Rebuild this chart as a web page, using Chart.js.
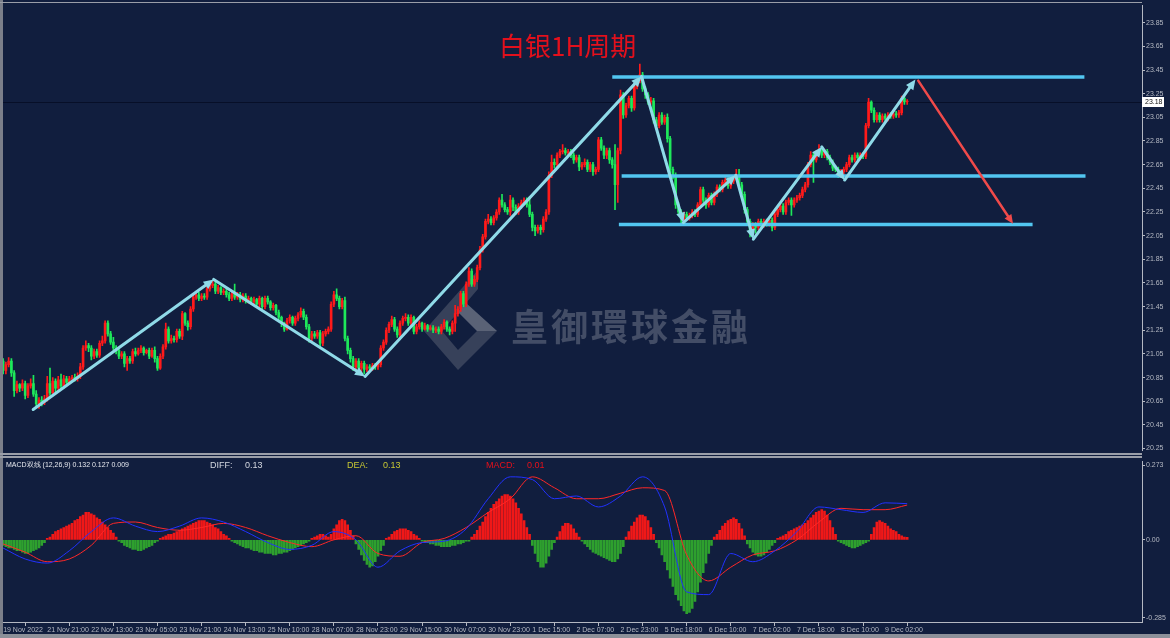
<!DOCTYPE html>
<html>
<head>
<meta charset="utf-8">
<script src="https://cdn.jsdelivr.net/npm/chart.js@4.4.1/dist/chart.umd.min.js"></script>
<style>
  body { margin:0; background:#111e3e; width:1170px; height:638px; overflow:hidden; position:relative; }
  canvas { position:absolute; left:0; }
  #main { top:0; }
  #macd { top:456px; }
  .fr { position:absolute; background:#9a9ea8; }
</style>
</head>
<body>
<canvas id="main" width="1170" height="456"></canvas>
<canvas id="macd" width="1170" height="178"></canvas>
<div class="fr" style="left:0;top:0;width:3px;height:634px;background:#7b7f8a"></div>
<div class="fr" style="left:0;top:2px;width:1142px;height:1px"></div>
<div class="fr" style="left:0;top:453px;width:1142px;height:2px"></div>
<div class="fr" style="left:0;top:456px;width:1142px;height:2px"></div>
<div class="fr" style="left:0;top:634px;width:1170px;height:4px;background:#8c9099"></div>
<script>
// hourly candles, XAGUSD (silver)
const opens = [
 20.99,20.91,20.96,20.99,20.89,20.74,20.79,20.76,20.80,20.70,
 20.78,20.80,20.71,20.63,20.66,20.64,20.67,20.80,20.72,20.82,
 20.76,20.83,20.78,20.84,20.81,20.84,20.85,20.84,20.86,20.94,
 21.10,21.12,21.10,21.03,21.07,21.04,21.14,21.16,21.31,21.22,
 21.15,21.10,21.08,21.03,21.05,20.97,21.01,20.99,21.07,21.05,
 21.08,21.10,21.06,21.08,21.03,21.08,21.01,20.93,21.03,21.11,
 21.26,21.16,21.18,21.17,21.24,21.20,21.39,21.31,21.28,21.43,
 21.53,21.55,21.52,21.54,21.53,21.60,21.63,21.64,21.58,21.61,
 21.57,21.58,21.55,21.52,21.56,21.53,21.55,21.51,21.54,21.50,
 21.52,21.49,21.51,21.47,21.52,21.45,21.52,21.49,21.44,21.46,
 21.40,21.36,21.31,21.26,21.33,21.36,21.31,21.35,21.38,21.41,
 21.36,21.28,21.18,21.22,21.20,21.23,21.14,21.22,21.24,21.26,
 21.47,21.55,21.52,21.45,21.50,21.18,21.08,21.01,20.94,20.99,
 20.93,20.97,20.92,20.94,20.93,20.95,20.94,20.96,21.10,21.15,
 21.25,21.30,21.34,21.26,21.21,21.31,21.35,21.36,21.31,21.36,
 21.24,21.28,21.31,21.26,21.29,21.26,21.27,21.25,21.26,21.24,
 21.28,21.32,21.26,21.24,21.31,21.39,21.43,21.56,21.47,21.64,
 21.75,21.64,21.68,21.78,21.93,22.04,22.17,22.19,22.16,22.20,
 22.25,22.35,22.31,22.27,22.25,22.35,22.29,22.25,22.30,22.33,
 22.35,22.31,22.23,22.12,22.09,22.12,22.10,22.19,22.25,22.56,
 22.67,22.65,22.73,22.76,22.77,22.75,22.76,22.73,22.69,22.71,
 22.63,22.65,22.67,22.61,22.65,22.59,22.61,22.86,22.79,22.73,
 22.77,22.69,22.65,22.48,22.77,23.24,23.07,23.15,23.21,23.13,
 23.31,23.36,23.41,23.29,23.24,23.18,23.19,23.03,22.98,23.07,
 23.01,23.05,22.87,22.61,22.56,22.31,22.25,22.19,22.23,22.20,
 22.22,22.25,22.23,22.31,22.44,22.35,22.31,22.39,22.33,22.40,
 22.46,22.44,22.50,22.52,22.47,22.51,22.54,22.56,22.48,22.40,
 22.27,22.17,22.10,22.14,22.12,22.17,22.14,22.17,22.15,22.18,
 22.12,22.23,22.27,22.30,22.25,22.33,22.35,22.31,22.35,22.37,
 22.39,22.44,22.48,22.65,22.73,22.69,22.75,22.77,22.73,22.76,
 22.71,22.67,22.62,22.61,22.56,22.59,22.61,22.65,22.71,22.69,
 22.73,22.71,22.73,22.72,22.98,23.18,23.11,23.03,23.07,23.03,
 23.06,23.04,23.07,23.06,23.08,23.07,23.09,23.21,23.18
];
const highs = [
 21.01,20.98,21.02,21.01,20.91,20.82,20.80,20.83,20.82,20.80,
 20.84,20.87,20.74,20.68,20.69,20.70,20.86,20.93,20.85,20.84,
 20.86,20.88,20.87,20.86,20.86,20.87,20.88,20.89,20.97,21.12,
 21.16,21.14,21.12,21.09,21.09,21.16,21.20,21.33,21.33,21.24,
 21.19,21.12,21.10,21.07,21.07,21.03,21.03,21.09,21.10,21.10,
 21.12,21.11,21.09,21.10,21.10,21.11,21.03,21.05,21.13,21.31,
 21.28,21.21,21.20,21.26,21.26,21.41,21.40,21.33,21.45,21.55,
 21.58,21.57,21.56,21.56,21.62,21.65,21.67,21.66,21.63,21.62,
 21.60,21.60,21.57,21.58,21.64,21.57,21.57,21.56,21.56,21.54,
 21.53,21.53,21.52,21.54,21.53,21.54,21.54,21.50,21.48,21.47,
 21.42,21.37,21.32,21.35,21.38,21.37,21.37,21.40,21.44,21.43,
 21.38,21.30,21.24,21.24,21.25,21.25,21.24,21.26,21.28,21.49,
 21.58,21.60,21.54,21.52,21.53,21.20,21.10,21.03,21.01,21.01,
 20.99,20.99,20.96,20.96,20.97,20.97,20.98,21.12,21.17,21.27,
 21.32,21.37,21.36,21.28,21.33,21.37,21.39,21.38,21.38,21.37,
 21.30,21.33,21.32,21.31,21.30,21.29,21.29,21.28,21.28,21.30,
 21.34,21.33,21.28,21.33,21.46,21.45,21.58,21.58,21.66,21.78,
 21.77,21.71,21.80,21.96,22.06,22.19,22.23,22.21,22.22,22.27,
 22.37,22.40,22.33,22.29,22.39,22.37,22.31,22.32,22.35,22.37,
 22.37,22.38,22.25,22.14,22.14,22.14,22.21,22.27,22.59,22.73,
 22.70,22.75,22.78,22.82,22.79,22.78,22.78,22.75,22.73,22.73,
 22.67,22.70,22.69,22.67,22.67,22.63,22.88,22.88,22.81,22.79,
 22.79,22.71,22.82,22.79,23.28,23.26,23.17,23.23,23.23,23.33,
 23.38,23.50,23.43,23.31,23.26,23.22,23.21,23.05,23.09,23.09,
 23.07,23.08,22.89,22.63,22.58,22.33,22.27,22.25,22.25,22.24,
 22.27,22.27,22.33,22.46,22.46,22.37,22.41,22.41,22.42,22.48,
 22.48,22.52,22.55,22.54,22.53,22.56,22.61,22.61,22.50,22.42,
 22.29,22.19,22.16,22.16,22.19,22.19,22.19,22.19,22.20,22.20,
 22.25,22.29,22.32,22.32,22.35,22.37,22.37,22.37,22.39,22.41,
 22.46,22.50,22.67,22.76,22.75,22.77,22.82,22.79,22.78,22.78,
 22.73,22.69,22.64,22.63,22.61,22.63,22.67,22.73,22.73,22.75,
 22.75,22.75,22.75,23.00,23.21,23.19,23.13,23.09,23.09,23.08,
 23.08,23.09,23.09,23.10,23.10,23.11,23.23,23.23,23.20
];
const lows = [
 20.88,20.88,20.94,20.86,20.69,20.72,20.73,20.74,20.67,20.68,
 20.76,20.69,20.61,20.59,20.61,20.62,20.65,20.70,20.70,20.73,
 20.74,20.75,20.76,20.79,20.79,20.82,20.82,20.82,20.84,20.92,
 21.08,21.07,21.00,21.01,21.02,21.02,21.12,21.14,21.20,21.13,
 21.08,21.05,21.01,21.01,20.94,20.91,20.97,20.97,21.03,21.04,
 21.06,21.04,21.05,21.01,21.02,20.98,20.91,20.92,21.01,21.09,
 21.14,21.14,21.15,21.15,21.18,21.17,21.29,21.25,21.26,21.41,
 21.51,21.50,21.50,21.51,21.51,21.58,21.61,21.56,21.56,21.55,
 21.55,21.53,21.50,21.50,21.51,21.51,21.49,21.49,21.48,21.48,
 21.47,21.47,21.45,21.45,21.43,21.43,21.47,21.42,21.42,21.38,
 21.34,21.28,21.24,21.25,21.31,21.29,21.29,21.33,21.36,21.34,
 21.26,21.15,21.16,21.18,21.18,21.11,21.12,21.20,21.22,21.24,
 21.45,21.50,21.43,21.43,21.16,21.05,20.98,20.91,20.92,20.90,
 20.87,20.88,20.90,20.91,20.91,20.92,20.92,20.94,21.08,21.13,
 21.23,21.28,21.24,21.19,21.19,21.29,21.33,21.29,21.29,21.22,
 21.22,21.26,21.24,21.25,21.24,21.25,21.23,21.23,21.22,21.22,
 21.26,21.24,21.21,21.22,21.24,21.37,21.41,21.45,21.45,21.62,
 21.62,21.62,21.66,21.76,21.91,22.02,22.15,22.14,22.14,22.18,
 22.23,22.29,22.25,22.23,22.22,22.26,22.23,22.23,22.28,22.31,
 22.29,22.21,22.09,22.05,22.07,22.06,22.08,22.17,22.23,22.54,
 22.62,22.63,22.71,22.74,22.73,22.73,22.71,22.66,22.67,22.60,
 22.61,22.63,22.59,22.59,22.56,22.57,22.59,22.77,22.70,22.70,
 22.66,22.62,22.27,22.33,22.74,23.04,23.05,23.13,23.10,23.11,
 23.29,23.34,23.27,23.21,23.16,23.16,23.00,22.95,22.96,22.99,
 22.99,22.84,22.58,22.53,22.28,22.22,22.15,22.17,22.18,22.18,
 22.20,22.21,22.21,22.29,22.33,22.28,22.29,22.31,22.31,22.38,
 22.42,22.42,22.48,22.45,22.45,22.49,22.52,22.46,22.38,22.24,
 22.14,22.04,22.08,22.07,22.10,22.12,22.12,22.13,22.13,22.09,
 22.10,22.21,22.25,22.23,22.23,22.31,22.22,22.29,22.33,22.35,
 22.37,22.42,22.46,22.63,22.50,22.67,22.73,22.71,22.71,22.69,
 22.65,22.60,22.59,22.54,22.54,22.57,22.59,22.63,22.67,22.67,
 22.69,22.69,22.70,22.70,22.96,23.09,23.01,23.01,23.01,23.01,
 23.02,23.02,23.04,23.04,23.05,23.05,23.07,23.16,23.16
];
const closes = [
 20.91,20.96,20.99,20.89,20.74,20.79,20.76,20.80,20.70,20.78,
 20.80,20.71,20.63,20.66,20.64,20.67,20.80,20.72,20.82,20.76,
 20.83,20.78,20.84,20.81,20.84,20.85,20.84,20.86,20.94,21.10,
 21.12,21.10,21.03,21.07,21.04,21.14,21.16,21.31,21.22,21.15,
 21.10,21.08,21.03,21.05,20.97,21.01,20.99,21.07,21.05,21.08,
 21.10,21.06,21.08,21.03,21.08,21.01,20.93,21.03,21.11,21.26,
 21.16,21.18,21.17,21.24,21.20,21.39,21.31,21.28,21.43,21.53,
 21.55,21.52,21.54,21.53,21.60,21.63,21.64,21.58,21.61,21.57,
 21.58,21.55,21.52,21.56,21.53,21.55,21.51,21.54,21.50,21.52,
 21.49,21.51,21.47,21.52,21.45,21.52,21.49,21.44,21.46,21.40,
 21.36,21.31,21.26,21.33,21.36,21.31,21.35,21.38,21.41,21.36,
 21.28,21.18,21.22,21.20,21.23,21.14,21.22,21.24,21.26,21.47,
 21.55,21.52,21.45,21.50,21.18,21.08,21.01,20.94,20.99,20.93,
 20.97,20.92,20.94,20.93,20.95,20.94,20.96,21.10,21.15,21.25,
 21.30,21.34,21.26,21.21,21.31,21.35,21.36,21.31,21.36,21.24,
 21.28,21.31,21.26,21.29,21.26,21.27,21.25,21.26,21.24,21.28,
 21.32,21.26,21.24,21.31,21.39,21.43,21.56,21.47,21.64,21.75,
 21.64,21.68,21.78,21.93,22.04,22.17,22.19,22.16,22.20,22.25,
 22.35,22.31,22.27,22.25,22.35,22.29,22.25,22.30,22.33,22.35,
 22.31,22.23,22.12,22.09,22.12,22.10,22.19,22.25,22.56,22.67,
 22.65,22.73,22.76,22.77,22.75,22.76,22.73,22.69,22.71,22.63,
 22.65,22.67,22.61,22.65,22.59,22.61,22.86,22.79,22.73,22.77,
 22.69,22.65,22.48,22.77,23.24,23.07,23.15,23.21,23.13,23.31,
 23.36,23.41,23.29,23.24,23.18,23.19,23.03,22.98,23.07,23.01,
 23.05,22.87,22.61,22.56,22.31,22.25,22.19,22.23,22.20,22.22,
 22.25,22.23,22.31,22.44,22.35,22.31,22.39,22.33,22.40,22.46,
 22.44,22.50,22.52,22.47,22.51,22.54,22.56,22.48,22.40,22.27,
 22.17,22.10,22.14,22.12,22.17,22.14,22.17,22.15,22.18,22.12,
 22.23,22.27,22.30,22.25,22.33,22.35,22.31,22.35,22.37,22.39,
 22.44,22.48,22.65,22.73,22.69,22.75,22.77,22.73,22.76,22.71,
 22.67,22.62,22.61,22.56,22.59,22.61,22.65,22.71,22.69,22.73,
 22.71,22.73,22.72,22.98,23.18,23.11,23.03,23.07,23.03,23.06,
 23.04,23.07,23.06,23.08,23.07,23.09,23.21,23.18,23.18
];

// MACD histogram, one value per candle
const macdHist = [
 -0.02,-0.025,-0.03,-0.03,-0.035,-0.04,-0.04,-0.045,-0.05,-0.05,-0.045,-0.04,-0.035,-0.03,-0.02,-0.01,
 0.005,0.01,0.02,0.03,0.035,0.04,0.045,0.05,0.055,0.06,0.07,0.075,0.085,0.09,0.10,0.10,0.095,0.09,0.08,0.075,0.065,0.055,0.045,0.035,0.025,0.01,
 -0.005,-0.01,-0.02,-0.025,-0.03,-0.035,-0.035,-0.04,-0.04,-0.035,-0.03,-0.025,-0.02,-0.01,-0.005,
 0.005,0.01,0.015,0.02,0.02,0.025,0.03,0.035,0.04,0.045,0.05,0.055,0.06,0.065,0.07,0.07,0.07,0.065,0.06,0.055,0.045,0.04,0.03,0.02,0.015,0.005,
 -0.005,-0.01,-0.015,-0.02,-0.025,-0.03,-0.03,-0.035,-0.04,-0.04,-0.045,-0.045,-0.05,-0.05,-0.05,-0.055,-0.055,-0.05,-0.05,-0.045,-0.045,-0.04,-0.035,-0.03,-0.025,-0.02,-0.015,-0.01,-0.005,
 0.005,0.01,0.015,0.02,0.02,0.015,0.01,
 0.02,0.04,0.055,0.07,0.075,0.07,0.055,0.035,0.015,
 -0.015,-0.035,-0.055,-0.075,-0.09,-0.10,-0.095,-0.08,-0.06,-0.04,-0.02,
 0.005,0.01,0.02,0.03,0.035,0.04,0.04,0.04,0.035,0.03,0.02,0.015,0.005,
 -0.005,-0.01,-0.01,-0.015,-0.015,-0.02,-0.02,-0.025,-0.025,-0.025,-0.025,-0.02,-0.02,-0.015,-0.015,-0.01,-0.005,-0.005,
 0.01,0.02,0.035,0.05,0.065,0.085,0.10,0.115,0.13,0.14,0.15,0.16,0.165,0.165,0.16,0.15,0.135,0.115,0.095,0.07,0.045,0.02,
 -0.02,-0.05,-0.08,-0.10,-0.10,-0.085,-0.06,-0.035,-0.01,
 0.01,0.03,0.05,0.06,0.06,0.055,0.04,0.025,0.01,
 -0.005,-0.015,-0.025,-0.035,-0.045,-0.05,-0.055,-0.06,-0.065,-0.07,-0.075,-0.08,-0.08,-0.07,-0.05,-0.025,
 0.01,0.03,0.05,0.065,0.08,0.09,0.09,0.085,0.07,0.045,0.02,
 -0.01,-0.03,-0.055,-0.08,-0.11,-0.14,-0.17,-0.20,-0.22,-0.24,-0.26,-0.27,-0.265,-0.25,-0.225,-0.19,-0.155,-0.12,-0.085,-0.05,-0.02,
 0.01,0.02,0.035,0.05,0.06,0.07,0.075,0.08,0.075,0.06,0.04,0.015,
 -0.015,-0.03,-0.045,-0.055,-0.06,-0.06,-0.055,-0.045,-0.035,-0.02,-0.01,
 0.005,0.01,0.015,0.02,0.03,0.035,0.04,0.045,0.05,0.055,0.06,0.07,0.08,0.09,0.10,0.105,0.11,0.105,0.09,0.07,0.045,0.02,
 -0.005,-0.01,-0.015,-0.02,-0.025,-0.03,-0.03,-0.025,-0.02,-0.015,-0.01,-0.005,
 0.02,0.045,0.065,0.07,0.065,0.06,0.05,0.04,0.035,0.03,0.02,0.015,0.01,0.009
];
// DIFF / DEA lines, read at every 8th candle
const lineIdx = [0,8,16,24,32,40,48,56,64,72,80,88,96,104,112,120,128,136,144,152,160,168,176,184,192,200,208,216,224,232,240,248,256,264,272,280,288,296,304,312,320,328];
const diffVals = [-0.03,-0.07,-0.085,-0.04,0.03,0.08,0.05,0.03,0.05,0.08,0.065,0.03,-0.01,-0.035,-0.02,0.03,0.0,-0.10,-0.04,-0.01,-0.005,0.04,0.15,0.23,0.22,0.15,0.16,0.12,0.16,0.23,0.12,-0.19,-0.20,-0.05,-0.08,-0.04,0.03,0.12,0.11,0.10,0.135,0.132];
const deaVals = [-0.015,-0.045,-0.08,-0.07,-0.02,0.06,0.065,0.045,0.035,0.045,0.06,0.045,0.015,-0.01,-0.025,0.0,0.015,-0.05,-0.06,-0.01,0.005,0.045,0.10,0.15,0.23,0.19,0.15,0.15,0.17,0.19,0.18,-0.055,-0.15,-0.10,-0.055,-0.04,0.0,0.065,0.115,0.11,0.11,0.127];

const priceTicks = [20.25,20.45,20.65,20.85,21.05,21.25,21.45,21.65,21.85,22.05,22.25,22.45,22.65,22.85,23.05,23.25,23.45,23.65,23.85];
const macdTicks = [0.273, 0, -0.285];
const timeTicks = [0,16,32,48,64,80,96,112,128,144,160,176,192,208,224,240,256,272,288,304,320];
const timeLabels = ['19 Nov 2022','21 Nov 21:00','22 Nov 13:00','23 Nov 05:00','23 Nov 21:00','24 Nov 13:00','25 Nov 10:00','28 Nov 07:00','28 Nov 23:00','29 Nov 15:00','30 Nov 07:00','30 Nov 23:00','1 Dec 15:00','2 Dec 07:00','2 Dec 23:00','5 Dec 18:00','6 Dec 10:00','7 Dec 02:00','7 Dec 18:00','8 Dec 10:00','9 Dec 02:00'];

// hand-drawn analysis marks, in (candle index, price)
const zigIdx = [10.9, 76.4, 131.3, 231.6, 246.8, 265.8, 272.2, 297, 305.3, 331];
const zigPrice = [20.58, 21.68, 20.86, 23.395, 22.16, 22.56, 22.02, 22.80, 22.52, 23.37];
const levelPrice = [23.39, 22.555, 22.145];
const levelFrom = [221, 224.4, 223.4];
const levelTo = [392.3, 392.7, 373.5];
const forecastIdx = [332, 366.4];
const forecastPrice = [23.36, 22.15];

const UP = '#ff1a1a', DOWN = '#1ee85a';
const AXIS = '#b4b8c2';
const XMIN = -0.05, XMAX = 413.2;
const idx = closes.map((_, i) => i);
const candleColor = c => closes[c.dataIndex] >= opens[c.dataIndex] ? UP : DOWN;

function arrow(ctx, x1, y1, x2, y2, color, w, head) {
  const a = Math.atan2(y2 - y1, x2 - x1);
  ctx.strokeStyle = color; ctx.fillStyle = color; ctx.lineWidth = w; ctx.lineCap = 'round';
  ctx.beginPath();
  ctx.moveTo(x1, y1);
  ctx.lineTo(x2 - Math.cos(a) * head * 0.6, y2 - Math.sin(a) * head * 0.6);
  ctx.stroke();
  ctx.beginPath();
  ctx.moveTo(x2, y2);
  ctx.lineTo(x2 - head * Math.cos(a - 0.42), y2 - head * Math.sin(a - 0.42));
  ctx.lineTo(x2 - head * Math.cos(a + 0.42), y2 - head * Math.sin(a + 0.42));
  ctx.closePath();
  ctx.fill();
}

const mainOverlay = {
  id: 'mainOverlay',
  beforeDatasetsDraw(chart) {
    const {ctx, chartArea: a, scales: {y}} = chart;
    ctx.save();
    // last price line
    const yl = Math.round(y.getPixelForValue(closes[closes.length - 1])) + 0.5;
    ctx.strokeStyle = '#070f28'; ctx.lineWidth = 1;
    ctx.beginPath(); ctx.moveTo(a.left, yl); ctx.lineTo(a.right, yl); ctx.stroke();
    // watermark logo
    ctx.globalAlpha = 0.45;
    ctx.fillStyle = '#676c7d';
    ctx.beginPath();
    ctx.moveTo(424, 331); ctx.lineTo(478, 270); ctx.lineTo(478, 289); ctx.lineTo(442, 331);
    ctx.lineTo(458, 350); ctx.lineTo(477, 331); ctx.lineTo(458, 312); ctx.lineTo(466, 303);
    ctx.lineTo(497, 331); ctx.lineTo(458, 370); ctx.closePath(); ctx.fill();
    ctx.fillStyle = '#868b9c';
    ctx.beginPath(); ctx.moveTo(458, 312); ctx.lineTo(466, 303); ctx.lineTo(497, 331); ctx.lineTo(477, 331); ctx.closePath(); ctx.fill();
    // watermark text
    ctx.globalAlpha = 0.4;
    ctx.fillStyle = '#8e93a3';
    ctx.font = 'bold 37px "Noto Sans CJK TC"';
    ctx.textBaseline = 'middle';
    ctx.letterSpacing = '3px';
    ctx.fillText('皇御環球金融', 511, 327);
    ctx.restore();
  },
  afterDatasetsDraw(chart) {
    const {ctx, scales: {x, y}} = chart;
    ctx.save();
    // horizontal levels
    ctx.strokeStyle = '#52c6f0'; ctx.lineWidth = 3.5; ctx.lineCap = 'butt';
    levelPrice.forEach((p, k) => {
      const yy = y.getPixelForValue(p);
      ctx.beginPath(); ctx.moveTo(x.getPixelForValue(levelFrom[k]), yy); ctx.lineTo(x.getPixelForValue(levelTo[k]), yy); ctx.stroke();
    });
    // zigzag arrows
    for (let k = 1; k < zigIdx.length; k++) {
      arrow(ctx, x.getPixelForValue(zigIdx[k - 1]), y.getPixelForValue(zigPrice[k - 1]),
        x.getPixelForValue(zigIdx[k]), y.getPixelForValue(zigPrice[k]), '#8fdae8', 3, 11);
    }
    arrow(ctx, x.getPixelForValue(forecastIdx[0]), y.getPixelForValue(forecastPrice[0]),
      x.getPixelForValue(forecastIdx[1]), y.getPixelForValue(forecastPrice[1]), '#f04a4a', 2.5, 10);
    // title
    ctx.fillStyle = '#e3101c';
    ctx.font = '26px "Noto Sans CJK SC"';
    ctx.textBaseline = 'middle';
    ctx.fillText('白银1H周期', 499, 46);
    ctx.restore();
  },
  afterDraw(chart) {
    const {ctx, chartArea: a, scales: {y}} = chart;
    const last = closes[closes.length - 1];
    const yy = Math.round(y.getPixelForValue(last));
    ctx.save();
    ctx.fillStyle = '#ffffff';
    ctx.fillRect(a.right, yy - 5, 22, 10);
    ctx.fillStyle = '#111111';
    ctx.font = '7px "Liberation Sans"';
    ctx.textBaseline = 'middle';
    ctx.fillText(last.toFixed(2), a.right + 3, yy + 0.5);
    ctx.restore();
  }
};

new Chart(document.getElementById('main'), {
  type: 'bar',
  data: {
    datasets: [
      { data: idx.map(i => ({x: i, y: [lows[i], highs[i]]})), backgroundColor: candleColor, barThickness: 1, grouped: false, order: 2 },
      { data: idx.map(i => ({x: i, y: [opens[i], closes[i]]})), backgroundColor: candleColor, barThickness: 2, minBarLength: 1, grouped: false, order: 1 }
    ]
  },
  options: {
    responsive: false, animation: false, devicePixelRatio: 1,
    layout: { padding: { left: 3, top: 4, right: 0, bottom: 3 } },
    plugins: { legend: { display: false }, tooltip: { enabled: false } },
    scales: {
      x: { type: 'linear', min: XMIN, max: XMAX, offset: false, display: false },
      y: {
        position: 'right', min: 20.231, max: 23.998, beginAtZero: false,
        afterFit: s => { s.width = 28; },
        afterBuildTicks: s => { s.ticks = priceTicks.map(v => ({value: v})); },
        ticks: { color: AXIS, font: { size: 7, family: 'Liberation Sans' }, padding: 1, callback: v => v.toFixed(2) },
        grid: { drawOnChartArea: false, color: AXIS, tickLength: 3 },
        border: { color: AXIS }
      }
    }
  },
  plugins: [mainOverlay]
});

const macdText = {
  id: 'macdText',
  afterDraw(chart) {
    const ctx = chart.ctx;
    const n = diffVals.length - 1;
    ctx.save();
    ctx.textBaseline = 'middle';
    ctx.font = '7px "Liberation Sans"';
    ctx.fillStyle = '#e6e8ee';
    ctx.fillText('MACD双线 (12,26,9) ' + diffVals[n].toFixed(3) + ' ' + deaVals[n].toFixed(3) + ' ' + macdHist[macdHist.length - 1].toFixed(3), 6, 9);
    ctx.font = '9px "Liberation Sans"';
    ctx.fillStyle = '#d4d8e0';
    ctx.fillText('DIFF:', 210, 10); ctx.fillText(diffVals[n].toFixed(2), 245, 10);
    ctx.fillStyle = '#c8c832';
    ctx.fillText('DEA:', 347, 10); ctx.fillText(deaVals[n].toFixed(2), 383, 10);
    ctx.fillStyle = '#e8101a';
    ctx.fillText('MACD:', 486, 10); ctx.fillText(macdHist[macdHist.length - 1].toFixed(2), 527, 10);
    ctx.restore();
  }
};

new Chart(document.getElementById('macd'), {
  type: 'bar',
  data: {
    datasets: [
      { type: 'line', data: lineIdx.map((v, k) => ({x: v, y: diffVals[k]})), borderColor: '#2232ff', borderWidth: 1, pointRadius: 0, cubicInterpolationMode: 'monotone', order: 0 },
      { type: 'line', data: lineIdx.map((v, k) => ({x: v, y: deaVals[k]})), borderColor: '#ff2828', borderWidth: 1, pointRadius: 0, cubicInterpolationMode: 'monotone', order: 1 },
      { type: 'bar', data: idx.map(i => ({x: i, y: macdHist[i]})), backgroundColor: c => macdHist[c.dataIndex] >= 0 ? '#f01818' : '#2ea02e', barThickness: 2, grouped: false, order: 2 }
    ]
  },
  options: {
    responsive: false, animation: false, devicePixelRatio: 1,
    layout: { padding: { left: 3, top: 2, right: 0, bottom: 0 } },
    plugins: { legend: { display: false }, tooltip: { enabled: false } },
    scales: {
      x: {
        type: 'linear', min: XMIN, max: XMAX, offset: false,
        afterFit: s => { s.height = 12; },
        afterBuildTicks: s => { s.ticks = timeTicks.map(v => ({value: v})); },
        ticks: { color: AXIS, font: { size: 7, family: 'Liberation Sans' }, padding: 0, align: 'start', autoSkip: false, maxRotation: 0,
          callback: v => timeLabels[timeTicks.indexOf(v)] },
        grid: { drawOnChartArea: false, color: AXIS, tickLength: 4 },
        border: { color: AXIS }
      },
      y: {
        position: 'right', min: -0.300, max: 0.287, beginAtZero: false,
        afterFit: s => { s.width = 28; },
        afterBuildTicks: s => { s.ticks = macdTicks.map(v => ({value: v})); },
        ticks: { color: AXIS, font: { size: 7, family: 'Liberation Sans' }, padding: 1, callback: v => v === 0 ? '0.00' : String(v) },
        grid: { drawOnChartArea: false, color: AXIS, tickLength: 3 },
        border: { color: AXIS }
      }
    }
  },
  plugins: [macdText]
});
</script>
</body>
</html>
